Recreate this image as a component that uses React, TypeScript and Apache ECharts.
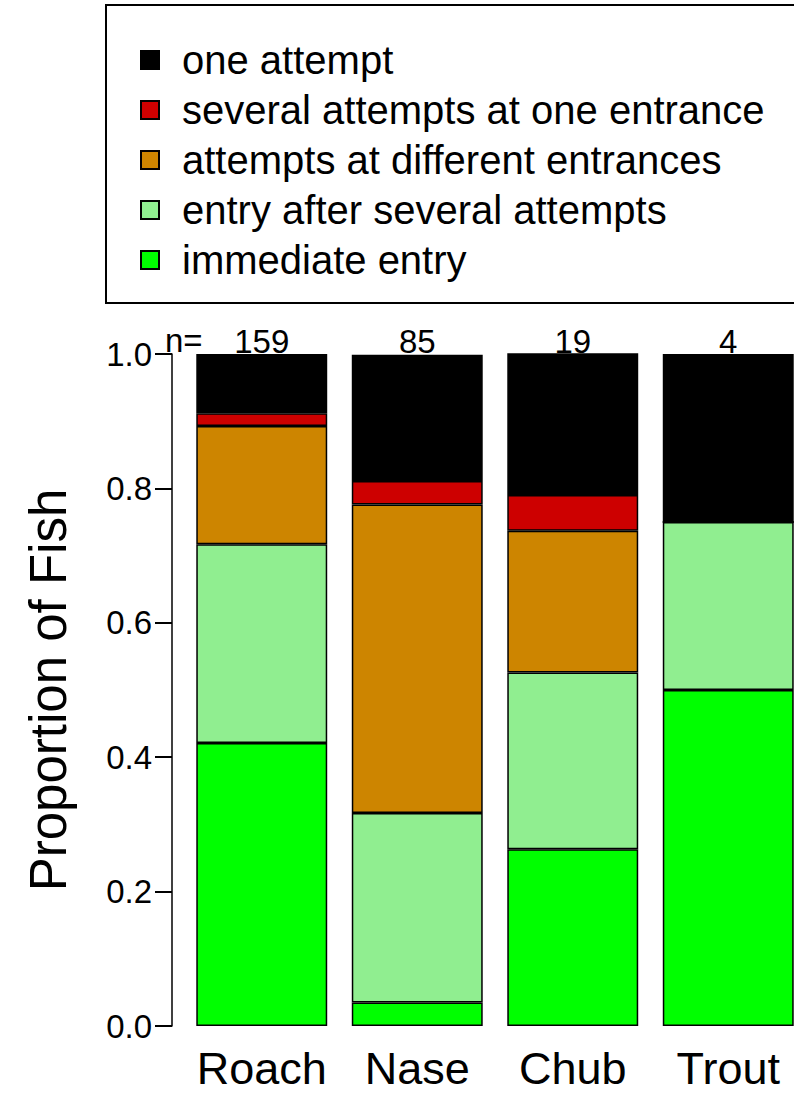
import React, { useEffect, useRef } from "react";
import * as echarts from "echarts";

const categories = ["Roach", "Nase", "Chub", "Trout"];
const nLabels = ["159", "85", "19", "4"];
const immediateEntry = [0.421, 0.035, 0.263, 0.5];
const entryAfterSeveral = [0.296, 0.282, 0.263, 0.25];
const differentEntrances = [0.176, 0.459, 0.211, 0];
const severalAtOne = [0.019, 0.035, 0.053, 0];
const oneAttempt = [0.088, 0.188, 0.211, 0.25];
const yTicks = [0, 0.2, 0.4, 0.6, 0.8, 1.0];

const FONT = '"Liberation Sans", Arial, Helvetica, sans-serif';

export default function App() {
  const ref = useRef<HTMLDivElement>(null);
  useEffect(() => {
    if (!ref.current) return;
    const chart = echarts.init(ref.current, null, { renderer: "svg" });
    const border = { borderColor: "#000", borderWidth: 1.5 };
    const mk = (name: string, data: number[], color: string) => ({
      name,
      type: "bar",
      stack: "total",
      data,
      barCategoryGap: "15.8%",
      itemStyle: { color, ...border },
      emphasis: { disabled: true },
    });
    chart.setOption({
      animation: false,
      textStyle: { fontFamily: FONT, color: "#000" },
      grid: { left: 184, top: 354, width: 622, height: 672, containLabel: false },
      legend: {
        orient: "vertical",
        left: 135,
        top: 34,
        itemWidth: 18,
        itemHeight: 18,
        itemGap: 8,
        icon: "rect",
        selectedMode: false,
        data: [
          "one attempt",
          "several attempts at one entrance",
          "attempts at different entrances",
          "entry after several attempts",
          "immediate entry",
        ],
        textStyle: { fontSize: 40, lineHeight: 42, color: "#000", fontFamily: FONT, padding: [0, 0, 0, 18] },
      },
      xAxis: [
        {
          type: "category",
          data: categories,
          position: "bottom",
          axisLine: { show: false },
          axisTick: { show: false },
          axisLabel: { fontSize: 45, color: "#000", margin: 20, interval: 0, hideOverlap: false, fontFamily: FONT },
        },
        {
          type: "category",
          data: nLabels,
          position: "top",
          axisLine: { show: false },
          axisTick: { show: false },
          axisLabel: { fontSize: 33, color: "#000", margin: -4, interval: 0, fontFamily: FONT },
        },
      ],
      yAxis: {
        type: "value",
        min: 0,
        max: 1,
        interval: 0.2,
        offset: 12,
        splitLine: { show: false },
        axisLine: { show: true, lineStyle: { color: "#000", width: 1.5 } },
        axisTick: { show: true, inside: false, interval: 0, length: 17, lineStyle: { color: "#000", width: 2, type: "solid", opacity: 1 } },
        axisLabel: {
          fontSize: 33,
          color: "#000",
          margin: 20,
          fontFamily: FONT,
          formatter: (v: number) => (yTicks.some((t) => Math.abs(t - v) < 1e-9) ? v.toFixed(1) : ""),
        },
        name: "Proportion of Fish",
        nameLocation: "middle",
        nameGap: 98,
        nameTextStyle: { fontSize: 51, color: "#000", fontFamily: FONT },
      },
      graphic: [
        {
          type: "rect",
          shape: { x: 106, y: 5, width: 720, height: 298 },
          style: { fill: "none", stroke: "#000", lineWidth: 2 },
          z: -1,
        },
        {
          type: "text",
          x: 165,
          y: 357,
          style: { text: "n=", fontSize: 33, fontFamily: FONT, fill: "#000", textAlign: "left", textVerticalAlign: "bottom" },
        },
      ],
      series: [
        mk("immediate entry", immediateEntry, "#00FF00"),
        mk("entry after several attempts", entryAfterSeveral, "#90EE90"),
        mk("attempts at different entrances", differentEntrances, "#CD8500"),
        mk("several attempts at one entrance", severalAtOne, "#CD0000"),
        mk("one attempt", oneAttempt, "#000000"),
      ],
    });
    return () => chart.dispose();
  }, []);
  return (
    <div style={{ position: "absolute", left: 0, top: 0, width: 794, height: 1094, overflow: "hidden", background: "#fff" }}>
      <div ref={ref} style={{ width: 830, height: 1094 }} />
    </div>
  );
}
